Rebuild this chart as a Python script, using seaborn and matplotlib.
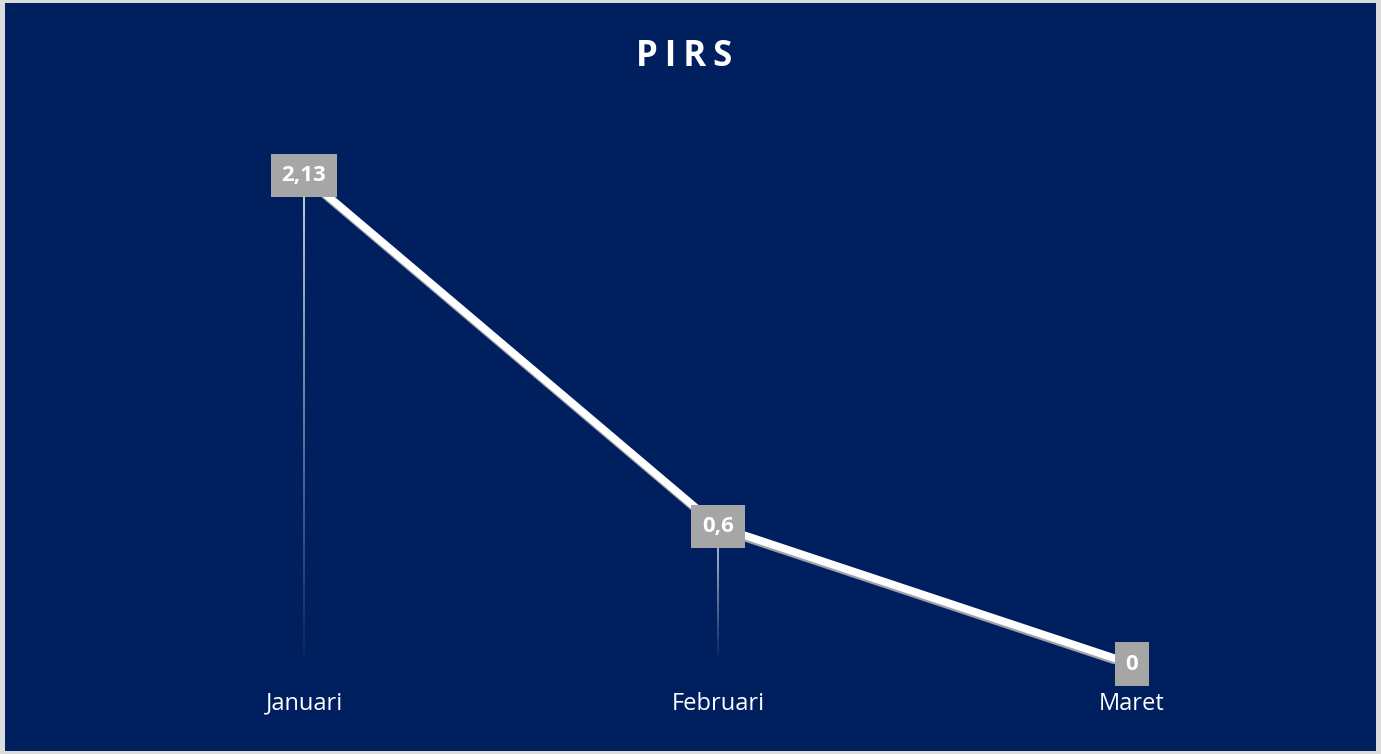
import numpy as np
import pandas as pd
import seaborn as sns
import matplotlib.pyplot as plt
import matplotlib.patheffects as pe
from matplotlib.patches import Rectangle
from matplotlib.collections import LineCollection

months = ["Januari", "Februari", "Maret"]
pirs = [2.13, 0.6, 0.0]
value_labels = ["2,13", "0,6", "0"]

navy = "#001f5f"

sns.set_theme(style="white")
plt.rcParams["font.family"] = ["Open Sans", "DejaVu Sans"]

fig = plt.figure(figsize=(13.81, 7.54), dpi=100, facecolor="#dcdcdc")
# navy panel inside the light grey frame
fig.patches.append(Rectangle((5 / 1381, 3 / 754), 1371 / 1381, 748 / 754,
                             transform=fig.transFigure, facecolor=navy,
                             edgecolor="none", zorder=-5))

ax = fig.add_axes([97 / 1381, 90 / 754, 1242 / 1381, 573 / 754])
ax.set_facecolor("none")
ax.set_zorder(2)

df = pd.DataFrame({"month": months, "value": pirs})
sns.lineplot(data=df, x="month", y="value", ax=ax, color="white", linewidth=5.5,
             sort=False, zorder=3,
             path_effects=[pe.SimpleLineShadow(offset=(1, -2), shadow_color="#b0b0b0", alpha=0.9),
                           pe.Normal()])

ax.set_xlim(-0.5, 2.5)
ax.set_ylim(0, 2.5)

# fading drop lines
for i, v in enumerate(pirs):
    if v <= 0:
        continue
    ys = np.linspace(v, 0.03, 40)
    segs = [[(i, ys[k]), (i, ys[k + 1])] for k in range(len(ys) - 1)]
    alphas = np.linspace(1.0, 0.05, len(segs))
    colors = [(1, 1, 1, a) for a in alphas]
    ax.add_collection(LineCollection(segs, colors=colors, linewidths=1.1, zorder=2))

# data labels
for i, (v, lab) in enumerate(zip(pirs, value_labels)):
    ax.text(i, v, lab, ha="center", va="center", color="white", fontsize=16,
            fontweight="bold", zorder=5, clip_on=False,
            bbox=dict(boxstyle="square,pad=0.5", facecolor="#a6a6a6", edgecolor="none"))

ax.set_xlabel("")
ax.set_ylabel("")
ax.set_yticks([])
ax.tick_params(axis="x", length=0, pad=20, labelsize=17, labelcolor="white")
for s in ax.spines.values():
    s.set_visible(False)

fig.text(684 / 1381, 1 - 57 / 754, "P\u2009I\u2009R\u2009S", ha="center", va="center",
         color="white", fontsize=25, fontweight="bold")

fig.savefig("out.png", dpi=100, facecolor=fig.get_facecolor())
